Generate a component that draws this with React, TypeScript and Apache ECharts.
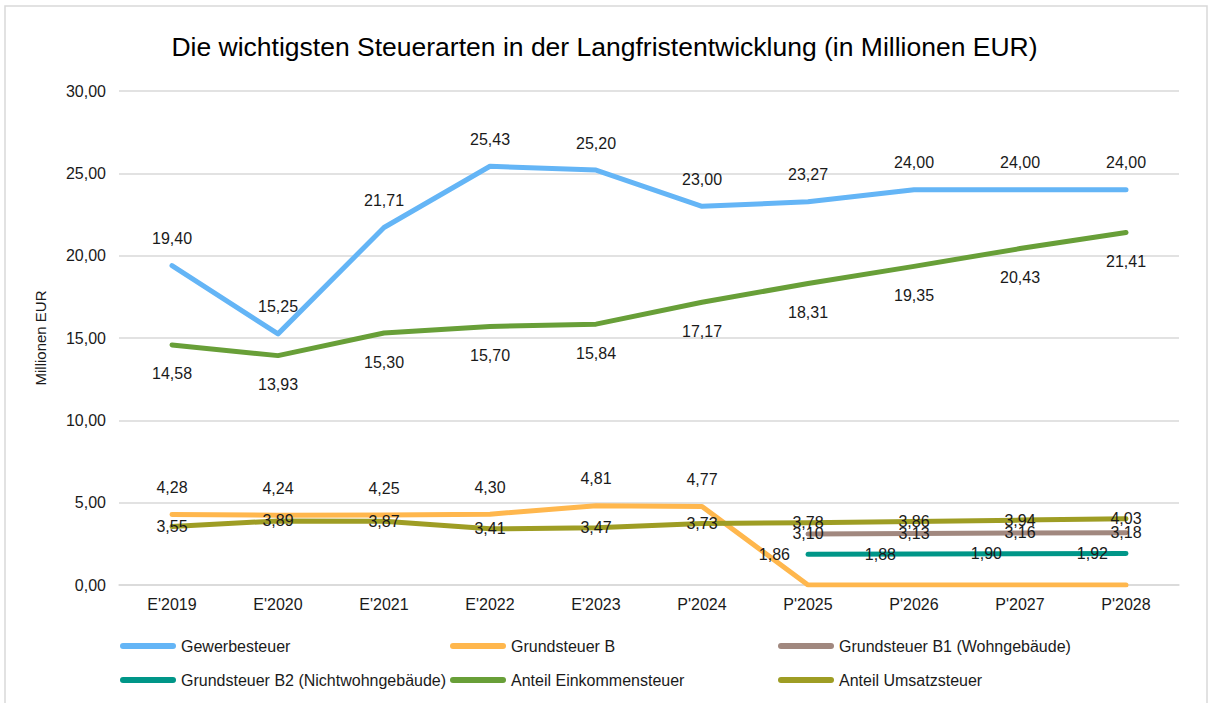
import React, { useEffect, useRef } from "react";
import * as echarts from "echarts";

const categories = ["E'2019", "E'2020", "E'2021", "E'2022", "E'2023", "P'2024", "P'2025", "P'2026", "P'2027", "P'2028"];
const gewerbesteuer = [19.4, 15.25, 21.71, 25.43, 25.2, 23.0, 23.27, 24.0, 24.0, 24.0];
const grundsteuerB = [4.28, 4.24, 4.25, 4.3, 4.81, 4.77, 0, 0, 0, 0];
const grundsteuerB1 = [null, null, null, null, null, null, 3.1, 3.13, 3.16, 3.18];
const grundsteuerB2 = [null, null, null, null, null, null, 1.86, 1.88, 1.9, 1.92];
const einkommensteuer = [14.58, 13.93, 15.3, 15.7, 15.84, 17.17, 18.31, 19.35, 20.43, 21.41];
const umsatzsteuer = [3.55, 3.89, 3.87, 3.41, 3.47, 3.73, 3.78, 3.86, 3.94, 4.03];
const yTicks = { min: 0, max: 30, interval: 5 };

const FONT = "'Liberation Sans', Arial, sans-serif";
const fmt = (v: number) => v.toFixed(2).replace(".", ",");

export default function App() {
  const ref = useRef<HTMLDivElement>(null);
  useEffect(() => {
    if (!ref.current) return;
    const chart = echarts.init(ref.current, undefined, { renderer: "svg" });
    const mk = (name: string, data: (number | null)[], color: string, position: string, distance: number, hideZero = false) => ({
      name,
      type: "line",
      data,
      symbol: "circle",
      symbolSize: 0,
      itemStyle: { color },
      lineStyle: { color, width: 5, cap: "round", join: "round" },
      label: {
        show: true,
        position,
        distance,
        fontSize: 16,
        fontFamily: FONT,
        color: "#1a1a1a",
        formatter: (p: any) => (p.value == null || (hideZero && p.value === 0) ? "" : fmt(p.value)),
      },
      emphasis: { disabled: true },
    });
    const legendBase = {
      orient: "vertical",
      top: 638,
      itemWidth: 56,
      itemHeight: 6,
      itemGap: 18,
      icon: "path://M3,0L53,0A3,3,0,0,1,53,6L3,6A3,3,0,0,1,3,0Z",
      padding: 0,
      textStyle: { fontSize: 16, fontFamily: FONT, color: "#1a1a1a", lineHeight: 16 },
    };
    chart.setOption({
      animation: false,
      backgroundColor: "#ffffff",
      title: {
        text: "Die wichtigsten Steuerarten in der Langfristentwicklung (in Millionen EUR)",
        left: "center",
        top: 28,
        textStyle: { fontSize: 26.5, fontWeight: "normal", fontFamily: FONT, color: "#000" },
      },
      graphic: [
        {
          type: "rect",
          shape: { x: 5, y: 6, width: 1202, height: 720 },
          style: { fill: "none", stroke: "#d9d9d9", lineWidth: 1.5 },
          silent: true,
        },
      ],
      legend: [
        { ...legendBase, left: 120, data: ["Gewerbesteuer", "Grundsteuer B2 (Nichtwohngebäude)"] },
        { ...legendBase, left: 450, data: ["Grundsteuer B", "Anteil Einkommensteuer"] },
        { ...legendBase, left: 778, data: ["Grundsteuer B1 (Wohngebäude)", "Anteil Umsatzsteuer"] },
      ],
      grid: { left: 119, right: 30, top: 91, bottom: 118 },
      xAxis: {
        type: "category",
        data: categories,
        boundaryGap: true,
        axisLine: { lineStyle: { color: "#d9d9d9", width: 1.5 } },
        axisTick: { show: false },
        axisLabel: { fontSize: 16, fontFamily: FONT, color: "#1a1a1a", margin: 11 },
      },
      yAxis: {
        type: "value",
        min: yTicks.min,
        max: yTicks.max,
        interval: yTicks.interval,
        name: "Millionen EUR",
        nameLocation: "middle",
        nameGap: 71,
        nameTextStyle: { fontSize: 15, fontFamily: FONT, color: "#1a1a1a" },
        axisLine: { show: false },
        axisTick: { show: false },
        splitLine: { lineStyle: { color: "#d9d9d9", width: 1.5 } },
        axisLabel: { fontSize: 16, fontFamily: FONT, color: "#1a1a1a", margin: 13, formatter: (v: number) => fmt(v) },
      },
      series: [
        mk("Gewerbesteuer", gewerbesteuer, "#64B5F6", "top", 19),
        mk("Grundsteuer B", grundsteuerB, "#FFB74D", "top", 19, true),
        mk("Grundsteuer B1 (Wohngebäude)", grundsteuerB1, "#A1887F", "inside", 0),
        mk("Grundsteuer B2 (Nichtwohngebäude)", grundsteuerB2, "#009688", "left", 18),
        mk("Anteil Einkommensteuer", einkommensteuer, "#689F38", "bottom", 21),
        mk("Anteil Umsatzsteuer", umsatzsteuer, "#9E9D24", "inside", 0),
      ],
    });
    return () => chart.dispose();
  }, []);
  return <div ref={ref} style={{ position: "absolute", left: 0, top: 0, width: 1209, height: 703 }} />;
}
